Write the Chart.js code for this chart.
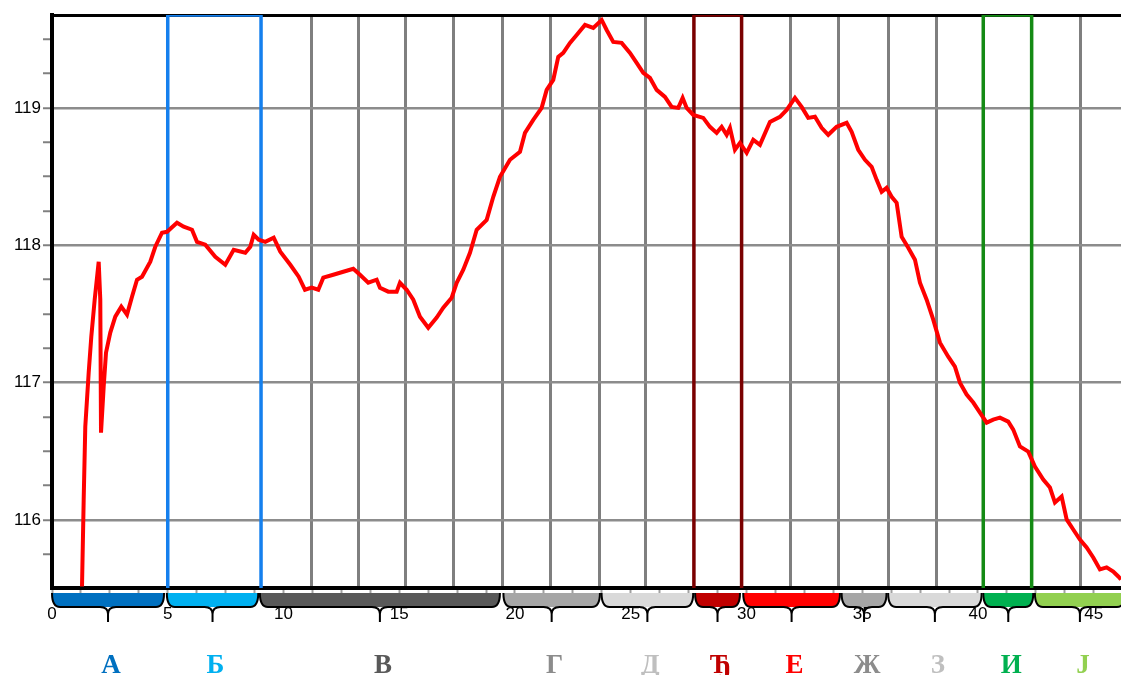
<!DOCTYPE html>
<html><head><meta charset="utf-8">
<script src="https://cdn.jsdelivr.net/npm/chart.js@4.4.1/dist/chart.umd.min.js"></script>
<style>html,body{margin:0;padding:0;background:#fff;overflow:hidden;} canvas{display:block;}</style>
</head><body>
<canvas id="c" width="1121" height="675"></canvas>
<script>
// ---- data (x in axis units, y in axis units) ----
const timeVals = [1.296,1.369,1.438,1.585,1.698,1.844,2.017,2.086,2.117,2.233,2.333,2.518,2.734,2.994,3.240,3.456,3.672,3.888,4.246,4.462,4.752,4.968,5.400,5.689,6.048,6.263,6.622,7.054,7.486,7.849,8.350,8.566,8.713,8.929,9.214,9.577,9.862,10.294,10.657,10.929,11.218,11.503,11.719,12.151,12.583,13.015,13.305,13.663,14.026,14.168,14.527,14.890,15.032,15.322,15.607,15.896,16.255,16.618,16.903,17.266,17.482,17.767,18.056,18.346,18.778,19.063,19.352,19.784,20.216,20.432,20.790,21.153,21.369,21.654,21.870,22.086,22.376,22.665,23.024,23.382,23.745,23.961,24.246,24.609,24.968,25.257,25.542,25.832,26.121,26.479,26.769,27.054,27.244,27.417,27.702,28.134,28.423,28.713,28.929,29.145,29.287,29.503,29.719,30.009,30.294,30.583,31.015,31.447,31.737,32.095,32.384,32.670,32.959,33.248,33.533,33.896,34.328,34.544,34.829,35.119,35.408,35.624,35.840,36.056,36.272,36.488,36.704,36.989,37.279,37.495,37.784,38.069,38.359,38.717,39.006,39.222,39.512,39.797,40.086,40.376,40.661,40.950,41.309,41.525,41.814,42.173,42.462,42.821,43.110,43.326,43.616,43.832,44.117,44.406,44.695,44.981,45.270,45.559,45.845,46.063,46.177];
const tempVals = [115.516,116.149,116.680,117.073,117.335,117.604,117.880,117.604,116.636,116.971,117.218,117.364,117.480,117.553,117.495,117.625,117.749,117.771,117.880,117.989,118.091,118.098,118.164,118.135,118.113,118.025,118.004,117.916,117.858,117.967,117.945,117.989,118.076,118.040,118.025,118.055,117.953,117.858,117.771,117.676,117.691,117.676,117.764,117.785,117.807,117.829,117.785,117.727,117.749,117.691,117.662,117.662,117.727,117.676,117.604,117.480,117.400,117.473,117.545,117.618,117.727,117.822,117.945,118.113,118.185,118.353,118.498,118.622,118.680,118.818,118.913,119.000,119.131,119.204,119.371,119.400,119.473,119.531,119.604,119.582,119.640,119.567,119.480,119.473,119.400,119.327,119.255,119.218,119.131,119.080,119.007,119.000,119.073,119.000,118.949,118.927,118.862,118.818,118.862,118.804,118.855,118.695,118.745,118.673,118.767,118.731,118.898,118.935,118.985,119.073,119.007,118.927,118.935,118.855,118.804,118.862,118.891,118.825,118.695,118.622,118.571,118.476,118.389,118.418,118.353,118.309,118.062,117.982,117.895,117.727,117.604,117.458,117.291,117.189,117.116,117.000,116.913,116.855,116.782,116.709,116.731,116.745,116.716,116.658,116.535,116.498,116.389,116.295,116.236,116.127,116.171,116.004,115.931,115.858,115.800,115.727,115.640,115.655,115.625,115.589,115.567];

const yTickVals = [115.75,116,116.25,116.5,116.75,117,117.25,117.5,117.75,118,118.25,118.5,118.75,119,119.25,119.5];
const xLabelVals = [0,5,10,15,20,25,30,35,40,45];
const xMinorStep = 1.25;
const gridXVals = [11.19,13.23,15.29,17.36,19.45,21.54,23.63,25.66,31.91,33.97,36.13,38.19,44.41];

const boxStart = [5.0, 27.73, 40.23];
const boxEnd   = [9.03, 29.79, 42.32];
const boxColors = ['#1580EE', '#7A0000', '#148A14'];

const phaseNames = ['А','Б','В','Г','Д','Ђ','Е','Ж','З','И','Ј'];
const phaseStart = [0.00, 4.96, 8.98, 19.50, 23.74, 27.78, 29.86, 34.11, 36.12, 40.23, 42.46];
const phaseEnd   = [4.84, 8.91, 19.35, 23.67, 27.70, 29.72, 34.04, 36.05, 40.16, 42.39, 46.35];
const phaseFill  = ['#0070C0','#00B0F0','#595959','#A6A6A6','#D9D9D9','#C00000','#FF0000','#A6A6A6','#D9D9D9','#00B050','#92D050'];
const phaseText  = ['#0070C0','#00B0F0','#595959','#8C8C8C','#BFBFBF','#C00000','#FF0000','#8C8C8C','#BFBFBF','#00B050','#92D050'];

const X_MIN = 0, X_MAX = 46.18, Y_MIN = 115.505, Y_MAX = 119.676;

// ---- build ----
const mainLine = timeVals.map((t, i) => ({x: t, y: tempVals[i]}));
const xMinorTicks = [];
for (let v = X_MIN; v <= 45 + 1e-9; v += xMinorStep) xMinorTicks.push(+v.toFixed(2));

const datasets = [{
  data: mainLine, borderColor: '#FF0000', borderWidth: 4, pointRadius: 0,
  tension: 0, fill: false, xAxisID: 'x', yAxisID: 'y'
}];
boxStart.forEach((s, i) => {
  datasets.push({
    data: [{x: s, y: Y_MIN}, {x: s, y: Y_MAX}, {x: boxEnd[i], y: Y_MAX}, {x: boxEnd[i], y: Y_MIN}],
    borderColor: boxColors[i], borderWidth: 3.5, pointRadius: 0, tension: 0, fill: false,
    xAxisID: 'x', yAxisID: 'y'
  });
});

const bracePlugin = {
  id: 'braces',
  afterDraw(chart) {
    const ctx = chart.ctx, xs = chart.scales.x, area = chart.chartArea;
    const top = area.bottom + 5, bot = area.bottom + 19, tip = area.bottom + 34;
    ctx.save();
    phaseNames.forEach((name, i) => {
      const x1 = xs.getPixelForValue(phaseStart[i]);
      const x2 = xs.getPixelForValue(phaseEnd[i]);
      const xc = (x1 + x2) / 2;
      const r = 8, n = 8;
      ctx.beginPath();
      ctx.moveTo(x1, top);
      ctx.quadraticCurveTo(x1, bot, x1 + r, bot);
      ctx.lineTo(x2 - r, bot);
      ctx.quadraticCurveTo(x2, bot, x2, top);
      ctx.closePath();
      ctx.fillStyle = phaseFill[i];
      ctx.fill();
      ctx.beginPath();
      ctx.moveTo(x1, top);
      ctx.quadraticCurveTo(x1, bot, x1 + r, bot);
      ctx.lineTo(xc - n, bot);
      ctx.quadraticCurveTo(xc, bot, xc, bot + 7);
      ctx.lineTo(xc, tip);
      ctx.moveTo(xc, bot + 7);
      ctx.quadraticCurveTo(xc, bot, xc + n, bot);
      ctx.lineTo(x2 - r, bot);
      ctx.quadraticCurveTo(x2, bot, x2, top);
      ctx.strokeStyle = '#000';
      ctx.lineWidth = 2;
      ctx.stroke();
      ctx.font = 'bold 27px "Liberation Serif", "DejaVu Serif", serif';
      ctx.fillStyle = phaseText[i];
      ctx.textAlign = 'center';
      ctx.textBaseline = 'alphabetic';
      ctx.fillText(name, xc + 3, area.bottom + 85);
    });
    ctx.restore();
  }
};

new Chart(document.getElementById('c'), {
  type: 'line',
  data: { datasets },
  plugins: [bracePlugin],
  options: {
    responsive: false, animation: false, devicePixelRatio: 1,
    layout: { padding: 0 },
    plugins: { legend: { display: false }, tooltip: { enabled: false } },
    scales: {
      x: {
        type: 'linear', position: 'bottom', min: X_MIN, max: X_MAX,
        afterBuildTicks: s => { s.ticks = xMinorTicks.map(v => ({value: v})); },
        afterFit: s => { s.height = 87; },
        grid: { drawOnChartArea: false, tickColor: '#A0A0A0', tickWidth: 2, tickLength: 8 },
        border: { display: true, color: '#000', width: 4 },
        ticks: {
          autoSkip: false, maxRotation: 0, padding: 8, color: '#000',
          font: { family: '"Liberation Sans", Arial, sans-serif', size: 17 },
          callback: v => xLabelVals.includes(v) ? String(v) : ''
        }
      },
      xg: {
        type: 'linear', position: 'top', min: X_MIN, max: X_MAX,
        afterBuildTicks: s => { s.ticks = gridXVals.map(v => ({value: v})); },
        afterFit: s => { s.height = 15; },
        grid: { color: '#7F7F7F', lineWidth: 3, drawTicks: false },
        border: { display: true, color: '#000', width: 3 },
        ticks: { display: false }
      },
      y: {
        type: 'linear', position: 'left', min: Y_MIN, max: Y_MAX,
        afterBuildTicks: s => { s.ticks = yTickVals.map(v => ({value: v})); },
        afterFit: s => { s.width = 52; },
        grid: {
          color: c => (c.tick && Number.isInteger(c.tick.value)) ? '#8C8C8C' : 'rgba(0,0,0,0)',
          lineWidth: 2.5, tickColor: '#808080', tickWidth: 2, tickLength: 9
        },
        border: { display: true, color: '#000', width: 4 },
        ticks: {
          padding: 2, color: '#000',
          font: { family: '"Liberation Sans", Arial, sans-serif', size: 17 },
          callback: v => Number.isInteger(v) ? String(v) : ''
        }
      }
    }
  }
});
</script>
</body></html>
